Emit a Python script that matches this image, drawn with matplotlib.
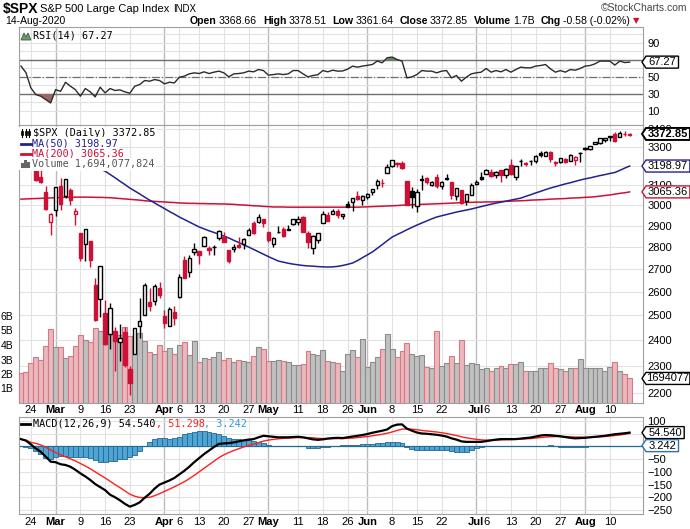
import numpy as np
import pandas as pd
import matplotlib
matplotlib.use('Agg')
from matplotlib import pyplot as plt
from matplotlib.patches import Polygon
from matplotlib.lines import Line2D
from matplotlib.ticker import NullLocator
from matplotlib.transforms import IdentityTransform

# ---- data (S&P 500 daily, 20-Feb-2020 .. 14-Aug-2020) ----
holidays = ['2020-04-10', '2020-05-25', '2020-07-03']
prev_close = 3386.15  # close of 19-Feb, used for the first candle colour

opens = [3380.39, 3360.50, 3257.61, 3238.94, 3139.90, 3062.54, 2916.90,
         2974.28, 3096.46, 3045.75, 3075.70, 2954.20,
         2863.89, 2813.48, 2825.60, 2630.86, 2569.99,
         2508.59, 2425.66, 2436.50, 2393.48, 2431.94,
         2290.71, 2344.44, 2457.77, 2501.29, 2555.87,
         2558.98, 2614.69, 2498.08, 2458.54, 2514.92,
         2578.28, 2738.65, 2685.00, 2776.99,
         2782.46, 2805.10, 2795.64, 2799.34, 2842.43,
         2845.62, 2784.81, 2787.89, 2810.42, 2812.64,
         2854.65, 2909.96, 2918.46, 2930.91, 2869.09,
         2815.01, 2868.88, 2883.14, 2878.26, 2908.83,
         2915.46, 2939.50, 2865.86, 2794.54, 2829.95,
         2913.86, 2948.59, 2953.63, 2969.95, 2948.05,
         3004.08, 3015.65, 3046.61, 3025.17,
         3038.78, 3064.78, 3098.90, 3111.56, 3163.84,
         3199.92, 3213.32, 3213.42, 3123.53, 3071.04,
         2993.76, 3131.00, 3136.13, 3101.64, 3140.29,
         3094.42, 3138.70, 3114.40, 3046.60, 3073.20,
         3018.59, 3050.20, 3105.92, 3143.64,
         3155.29, 3166.44, 3153.07, 3176.17, 3152.47,
         3205.08, 3141.11, 3225.98, 3208.36, 3224.21,
         3224.29, 3268.52, 3254.86, 3271.64, 3218.58,
         3219.84, 3234.27, 3227.22, 3231.76, 3270.45,
         3288.26, 3289.92, 3317.37, 3323.17, 3340.05,
         3356.04, 3370.34, 3355.46, 3372.95, 3368.66]
highs = [3393.52, 3360.76, 3259.81, 3246.99, 3182.51, 3097.07, 2959.72,
         3090.96, 3136.72, 3130.97, 3083.04, 2985.93,
         2863.89, 2882.59, 2825.60, 2660.95, 2711.33,
         2562.98, 2553.93, 2453.57, 2466.97, 2453.01,
         2300.73, 2449.71, 2571.42, 2637.01, 2615.91,
         2631.80, 2641.39, 2522.75, 2533.22, 2538.18,
         2676.85, 2756.89, 2760.75, 2818.57,
         2782.46, 2851.85, 2801.88, 2806.51, 2879.22,
         2868.98, 2785.54, 2815.10, 2844.90, 2842.71,
         2887.72, 2921.15, 2954.86, 2930.91, 2869.09,
         2844.24, 2898.23, 2891.11, 2901.92, 2932.16,
         2944.25, 2945.82, 2874.14, 2852.80, 2865.01,
         2968.09, 2964.21, 2980.29, 2978.50, 2956.76,
         3021.72, 3036.25, 3068.67, 3049.17,
         3062.18, 3081.07, 3130.94, 3128.91, 3211.72,
         3233.13, 3222.71, 3223.27, 3123.53, 3088.42,
         3079.76, 3153.45, 3141.16, 3120.00, 3155.53,
         3120.92, 3154.90, 3115.01, 3086.25, 3073.73,
         3053.89, 3111.51, 3128.44, 3165.81,
         3182.59, 3184.15, 3171.80, 3179.78, 3186.82,
         3235.32, 3200.95, 3238.28, 3220.39, 3233.52,
         3258.61, 3277.29, 3279.32, 3279.99, 3227.26,
         3241.43, 3243.72, 3264.74, 3250.92, 3272.17,
         3302.73, 3306.84, 3330.77, 3351.03, 3352.54,
         3363.29, 3381.01, 3387.89, 3387.24, 3378.51]
lows = [3342.44, 3328.45, 3214.65, 3118.77, 3108.99, 2977.39, 2855.84,
        2945.19, 2976.63, 3034.38, 2999.83, 2901.54,
        2734.43, 2734.00, 2707.22, 2478.86, 2492.37,
        2380.94, 2367.04, 2280.52, 2319.78, 2295.56,
        2191.86, 2344.44, 2407.53, 2500.72, 2520.02,
        2545.28, 2571.15, 2447.49, 2455.79, 2459.96,
        2574.57, 2657.67, 2663.30, 2762.36,
        2721.17, 2805.10, 2761.54, 2764.32, 2830.88,
        2820.43, 2727.10, 2775.95, 2794.26, 2791.76,
        2852.89, 2860.71, 2912.16, 2892.47, 2821.61,
        2797.85, 2863.55, 2847.65, 2876.48, 2902.88,
        2903.44, 2869.59, 2793.15, 2766.64, 2816.78,
        2913.86, 2922.35, 2953.63, 2938.57, 2933.59,
        2988.17, 2969.75, 3023.40, 2998.61,
        3031.54, 3051.64, 3080.82, 3090.41, 3163.84,
        3196.00, 3193.11, 3181.49, 2999.49, 2984.47,
        2965.66, 3076.06, 3108.03, 3093.51, 3083.11,
        3079.39, 3127.12, 3032.13, 3024.01, 3004.63,
        2999.74, 3047.83, 3101.17, 3124.52,
        3155.29, 3142.93, 3136.53, 3115.70, 3136.22,
        3149.43, 3127.66, 3200.76, 3198.59, 3205.65,
        3215.16, 3247.77, 3253.10, 3222.66, 3200.05,
        3214.25, 3216.17, 3227.22, 3204.13, 3220.26,
        3284.53, 3286.37, 3317.37, 3318.14, 3328.72,
        3335.44, 3326.44, 3355.46, 3363.35, 3361.64]
closes = [3373.23, 3337.75, 3225.89, 3128.21, 3116.39, 2978.76, 2954.22,
          3090.23, 3003.37, 3130.12, 3023.94, 2972.37,
          2746.56, 2882.23, 2741.38, 2480.64, 2711.02,
          2386.13, 2529.19, 2398.10, 2409.39, 2304.92,
          2237.40, 2447.33, 2475.56, 2630.07, 2541.47,
          2626.65, 2584.59, 2470.50, 2526.90, 2488.65,
          2663.68, 2659.41, 2749.98, 2789.82,
          2761.63, 2846.06, 2783.36, 2799.55, 2874.56,
          2823.16, 2736.56, 2799.31, 2797.80, 2836.74,
          2878.48, 2863.39, 2939.51, 2912.43, 2830.71,
          2842.74, 2868.44, 2848.42, 2881.19, 2929.80,
          2930.32, 2870.12, 2820.00, 2852.50, 2863.70,
          2953.91, 2922.94, 2971.61, 2948.51, 2955.45,
          2991.77, 3036.13, 3029.73, 3044.31,
          3055.73, 3080.82, 3122.87, 3112.35, 3193.93,
          3232.39, 3207.18, 3190.14, 3002.10, 3041.31,
          3066.59, 3124.74, 3113.49, 3115.34, 3097.74,
          3117.86, 3131.29, 3050.33, 3083.76, 3009.05,
          3053.24, 3100.29, 3115.86, 3130.01,
          3179.72, 3145.32, 3169.94, 3152.05, 3185.04,
          3155.22, 3197.52, 3226.56, 3215.57, 3224.73,
          3251.84, 3257.30, 3276.02, 3235.66, 3215.63,
          3239.41, 3218.44, 3258.44, 3246.22, 3271.12,
          3294.61, 3306.51, 3327.77, 3349.16, 3351.28,
          3360.47, 3333.69, 3380.35, 3373.43, 3372.85]

ma50 = [3265, 3264, 3263, 3261, 3258, 3255, 3251, 3247, 3242, 3236,
        3230, 3223, 3216, 3208, 3200, 3191, 3182, 3172, 3155, 3138,
        3120, 3103, 3085, 3070, 3055, 3039, 3024, 3010, 2996, 2982,
        2968, 2955, 2941, 2929, 2917, 2905, 2893, 2884, 2875, 2867,
        2858, 2850, 2841, 2830, 2820, 2809, 2799, 2788, 2777, 2766,
        2755, 2745, 2735, 2730, 2725, 2721, 2718, 2715, 2713, 2712,
        2710, 2709, 2708, 2709, 2711, 2715, 2720, 2726, 2737, 2750,
        2763, 2776, 2793, 2810, 2828, 2845, 2857, 2868, 2880, 2891,
        2902, 2912, 2922, 2932, 2941, 2947, 2953, 2959, 2965, 2970,
        2975, 2980, 2986, 2992, 2998, 3004, 3009, 3014, 3019, 3024,
        3029, 3034, 3043, 3051, 3060, 3068, 3077, 3085, 3092, 3099,
        3106, 3112, 3119, 3126, 3132, 3137, 3143, 3149, 3154, 3160,
        3165, 3176, 3188, 3198.97]
ma200 = [3029, 3030, 3031, 3032, 3033, 3034, 3035, 3036, 3037, 3038, 3038, 3039, 3039, 3039, 3039,
         3038, 3038, 3037, 3036, 3034, 3032, 3030, 3028, 3026, 3024, 3021, 3019, 3018, 3016, 3015,
         3013, 3012, 3010, 3009, 3008, 3008, 3007, 3007, 3006, 3006, 3005, 3005, 3004, 3003, 3001,
         3000, 2998, 2996, 2995, 2993, 2992, 2990, 2990, 2990, 2989, 2989, 2989, 2989, 2989, 2989,
         2989, 2989, 2989, 2989, 2989, 2989, 2989, 2989, 2989, 2990, 2991, 2992, 2993, 2994, 2995,
         2996, 2997, 2999, 3000, 3001, 3002, 3003, 3004, 3005, 3006, 3007, 3008, 3009, 3010, 3012,
         3013, 3013, 3014, 3014, 3015, 3015, 3016, 3017, 3018, 3019, 3020, 3021, 3022, 3024, 3025,
         3026, 3027, 3029, 3030, 3031, 3032, 3034, 3035, 3036, 3038, 3039, 3041, 3044, 3047, 3050,
         3054, 3058, 3061, 3065.36]

volume_b = [2.09, 2.15, 2.78, 3.2, 3.0, 3.93, 5.08, 3.84, 3.84, 3.08, 3.24, 3.93, 4.69, 4.34, 4.18,
            5.15, 4.97, 4.6, 4.9, 4.9, 4.7, 5.25, 4.6, 4.6, 4.85, 4.3, 3.55, 3.35, 4.0, 3.6,
            3.8, 3.4, 4.0, 4.2, 3.3, 4.3, 2.85, 3.1, 3.05, 3.2, 3.55, 2.95, 3.08, 2.8, 2.94,
            2.87, 2.83, 3.22, 3.84, 3.70, 2.87, 2.87, 2.94, 2.87, 2.83, 2.6, 2.6, 2.67, 3.56, 3.38,
            3.31, 3.66, 2.87, 2.83, 2.76, 2.2, 3.38, 3.66, 3.15, 4.39, 2.46, 2.83, 3.15, 3.70, 4.76,
            3.70, 3.15, 3.56, 4.14, 3.38, 3.24, 3.31, 2.46, 2.39, 4.97, 2.53, 2.76, 3.22, 2.74, 4.34,
            2.62, 2.78, 2.69, 2.34, 2.39, 2.23, 2.39, 2.57, 2.39, 2.67, 2.67, 2.8, 2.2, 2.2, 2.2,
            2.44, 2.39, 2.74, 2.44, 2.32, 2.23, 2.44, 2.44, 3.01, 2.39, 2.39, 2.44, 2.39, 2.23, 2.51,
            2.85, 2.23, 1.97, 1.694]

rsi = [62.6, 55, 37, 29.2, 27.3, 23.3, 19.4, 35, 33, 43.7, 39, 35, 27.3, 36.3, 32.4,
       26.5, 37.9, 31.2, 36.3, 34, 34.7, 32.4, 30.8, 39, 41, 45.7, 44.9, 46.8, 45.7, 41.8,
       43.7, 42.9, 49.6, 50.8, 53.5, 54.7, 53.9, 55.9, 53.9, 55.5, 56.7, 54.7, 50, 53.5, 53.9,
       54.7, 56.7, 55.9, 58.6, 57.4, 52, 52.7, 53.5, 52.7, 53.5, 57.4, 57.4, 53.5, 50, 51.6,
       52.5, 57.4, 55.9, 57.8, 56.7, 56.9, 59, 62.6, 61.4, 62.6, 63.5, 64.5, 68.5, 66.5, 72.4,
       73.2, 70.4, 68.5, 48.8, 50, 52.7, 57.4, 56.7, 56.7, 54.7, 56.7, 57.4, 48.8, 51.6, 44.9,
       49.6, 53.5, 54.7, 55.5, 59.8, 55.5, 57.4, 55.9, 58.6, 55.5, 58.6, 61.4, 60.6, 60.6, 62.6,
       63.3, 64.5, 59.4, 55.5, 57.4, 55.5, 58.6, 57.8, 59.8, 62.6, 63.3, 65.3, 68.5, 68.5, 68.5,
       63.8, 68.5, 66.8, 67.27]

macd = [29, 23, 8, -8, -21, -40, -60, -62, -70, -73, -80, -92, -106, -118, -132,
        -148, -160, -172, -190, -200, -212, -226, -237, -230, -220, -202, -186, -166, -150, -142,
        -134, -124, -110, -96, -80, -62, -46, -30, -16, -2, 10, 12, 13, 16, 20,
        24, 27, 29, 36, 42, 40, 38, 36, 36, 36, 37, 38, 36, 32, 28,
        26, 28, 31, 33, 34, 33, 36, 39, 42, 45, 49, 54, 58, 62, 67,
        80, 86, 87, 70, 62, 55, 51, 50, 48, 46, 43, 39, 32, 27, 20,
        18, 18, 18, 18, 21, 24, 27, 29, 29, 29, 29, 31, 33, 35, 39,
        43, 45, 44, 42, 40, 37, 34, 32, 33, 34, 36, 38, 40, 42, 45,
        48, 50, 52, 54.54]
signal = [28, 25, 16, 12, 6, -3, -14, -24, -33, -41, -49, -57, -67, -77, -88,
          -100, -112, -124, -137, -150, -162, -175, -188, -196, -201, -202, -200, -194, -186, -177,
          -168, -159, -149, -139, -127, -114, -100, -86, -72, -58, -44, -33, -24, -16, -9,
          -2, 4, 9, 15, 21, 25, 28, 30, 32, 33, 34, 35, 35, 35, 34,
          32, 31, 31, 31, 31, 31, 32, 33, 35, 37, 39, 42, 45, 48, 52,
          57, 63, 68, 69, 68, 66, 63, 61, 59, 57, 54, 51, 47, 43, 38,
          34, 31, 28, 26, 25, 25, 25, 26, 27, 27, 28, 29, 30, 31, 33,
          35, 37, 38, 39, 39, 39, 38, 37, 37, 36, 36, 37, 38, 39, 41,
          43, 45, 48, 51.298]
hist = [1, -2, -8, -18, -31, -45, -50, -41, -37, -37, -41, -41, -43, -43, -46,
        -54, -60, -63, -56, -56, -50, -50, -41, -33, -17, 0, 16, 29, 33, 33,
        31, 33, 39, 48, 52, 58, 59, 59, 58, 52, 51, 42, 33, 31, 28,
        25, 25, 22, 18, 12, 7, 3, 0, 1, 1, 1, 1, 0, -5, -6,
        -6, -4, -1, 2, 3, 5, 7, 7, 7, 8, 9, 10, 12, 14, 16,
        16, 16, 15, -4, -10, -13, -13, -14, -14, -14, -14, -15, -17, -20, -21,
        -20, -15, -8, -3, 0, 0, 1, 1, 1, 0, 0, 1, 1, 1, 1,
        2, 3, 5, 2, -2, -3, -3, -3, -3, -2, 0, 0, 0, 1, 2,
        2, 2, 3, 3.242]

tick_dates = ['2020-02-24', '2020-03-02', '2020-03-09', '2020-03-16', '2020-03-23',
              '2020-04-01', '2020-04-06', '2020-04-13', '2020-04-20', '2020-04-27',
              '2020-05-01', '2020-05-11', '2020-05-18', '2020-05-26', '2020-06-01',
              '2020-06-08', '2020-06-15', '2020-06-22', '2020-07-01', '2020-07-06',
              '2020-07-13', '2020-07-20', '2020-07-27', '2020-08-03', '2020-08-10']
tick_labels = ['24', 'Mar', '9', '16', '23', 'Apr', '6', '13', '20', '27', 'May', '11', '18',
               '26', 'Jun', '8', '15', '22', 'Jul', '6', '13', '20', '27', 'Aug', '10']

# ---- setup ----
dates = pd.bdate_range('2020-02-20', '2020-08-14').drop(pd.to_datetime(holidays))
x = np.arange(len(dates))
tick_idx = [dates.get_loc(pd.Timestamp(d)) for d in tick_dates]
is_month = [not t.isdigit() for t in tick_labels]

opens, highs, lows, closes = map(np.array, (opens, highs, lows, closes))

RED = '#cf1036'
NAVY = '#22228f'
GRID = '#e2e2e2'
MGRID = '#bcbcbc'
SPINE = '#a0a0a0'

W, H = 690, 529
plt.rcParams['font.family'] = ['Liberation Sans', 'DejaVu Sans']
fig = plt.figure(figsize=(W / 100, H / 100), dpi=100)
fig.patch.set_facecolor('white')
rend = fig.canvas.get_renderer()
MONO = 'DejaVu Sans Mono'


def box(x0, y0, x1, y1):
    return [x0 / W, 1 - y1 / H, (x1 - x0) / W, (y1 - y0) / H]


XL = (-0.4, 125.7)
ax_rsi = fig.add_axes(box(19, 27, 643, 125))
ax_grid = fig.add_axes(box(19, 125, 643, 403))
ax_vol = fig.add_axes(box(19, 125, 643, 403))
ax_px = fig.add_axes(box(19, 125, 643, 403))
ax_macd = fig.add_axes(box(19, 417, 643, 514))

for a in (ax_rsi, ax_grid, ax_vol, ax_px, ax_macd):
    a.set_xlim(*XL)
    for s in a.spines.values():
        s.set_color(SPINE)
        s.set_linewidth(0.8)
for a in (ax_vol, ax_px):
    a.set_facecolor('none')
    for s in a.spines.values():
        s.set_visible(False)


def vgrid(a):
    for i, m in zip(tick_idx, is_month):
        a.axvline(i, color=MGRID if m else GRID, lw=1.0 if m else 0.8, zorder=0)


# ---- RSI panel ----
ax_rsi.set_ylim(-6.5, 108.5)
vgrid(ax_rsi)
for lv in range(10, 101, 10):
    ax_rsi.axhline(lv, color=GRID, lw=0.8, zorder=0)
ax_rsi.axhline(70, color='#707070', lw=1.0, zorder=1)
ax_rsi.axhline(30, color='#707070', lw=1.0, zorder=1)
ax_rsi.axhline(50, color='#707070', lw=0.9, ls='-.', zorder=1)
rsi_a = np.array(rsi)
ax_rsi.fill_between(x, rsi_a, 30, where=rsi_a < 30, interpolate=True, color='#a06464', lw=0, zorder=2)
ax_rsi.fill_between(x, rsi_a, 70, where=rsi_a > 70, interpolate=True, color='#5e8a5e', lw=0, zorder=2)
ax_rsi.plot(x, rsi_a, color='#2b2b2b', lw=1.0, zorder=3)
ax_rsi.set_xticks([])
ax_rsi.yaxis.tick_right()
ax_rsi.set_yticks([10, 30, 50, 90])   # 70 sits under the value tag
ax_rsi.tick_params(axis='y', length=0, pad=3, labelsize=8)

# ---- price panel ----
PLO, PHI = 2164, 3423
price_ticks = list(range(2200, 3401, 100))
ax_grid.set_yscale('log')
ax_grid.set_ylim(PLO, PHI)
vgrid(ax_grid)
for p in price_ticks:
    ax_grid.axhline(p, color=GRID, lw=0.8, zorder=0)
ax_grid.set_xticks([])
ax_grid.set_yticks([])
ax_grid.yaxis.set_minor_locator(NullLocator())

# volume
vol = np.array(volume_b)
prev = np.r_[prev_close, closes[:-1]]
down = closes < prev
ax_vol.bar(x, vol, width=1.0, color=np.where(down, '#ebb8bd', '#c0c0c0'),
           edgecolor=np.where(down, '#d57985', '#8c8c8c'), lw=0.8, zorder=1)
ax_vol.set_ylim(0, 278 / 14.5)
ax_vol.set_xticks([])
ax_vol.set_yticks([1, 2, 3, 4, 5, 6])
ax_vol.set_yticklabels(['1B', '2B', '3B', '4B', '5B', '6B'])
ax_vol.tick_params(axis='y', length=0, pad=4, labelsize=7.5)

# candles
ax_px.set_yscale('log')
ax_px.set_ylim(PLO, PHI)
ax_px.plot(x, ma200, color=RED, lw=1.1, zorder=2)
ax_px.plot(x, ma50, color=NAVY, lw=1.1, zorder=2)
ccol = np.where(down, RED, 'black')
ax_px.vlines(x, lows, highs, colors=ccol, lw=1.0, zorder=3)
for i in range(len(x)):
    lo = min(opens[i], closes[i])
    h = max(abs(closes[i] - opens[i]), 0.5)
    fc = 'white' if closes[i] > opens[i] else ccol[i]
    ax_px.bar(x[i], h, bottom=lo, width=0.68, facecolor=fc, edgecolor=ccol[i], lw=1.0, zorder=4)
shown_prices = [p for p in price_ticks if p != 3200]   # 3200 is covered by the MA(50) tag
ax_px.yaxis.tick_right()
ax_px.set_yticks(shown_prices)
ax_px.set_yticklabels([str(p) for p in shown_prices])
ax_px.yaxis.set_minor_locator(NullLocator())
ax_px.tick_params(axis='y', which='both', length=0, pad=3, labelsize=8)
ax_px.set_xticks(tick_idx)
ax_px.set_xticklabels(tick_labels)
ax_px.tick_params(axis='x', length=0, pad=1.5, labelsize=8)

# ---- MACD panel ----
ax_macd.set_ylim(-266, 116)
vgrid(ax_macd)
macd_ticks = [100, 50, 0, -50, -100, -150, -200, -250]
for lv in macd_ticks:
    ax_macd.axhline(lv, color=GRID, lw=0.8, zorder=0)
ax_macd.axhline(0, color='#226e96', lw=0.9, zorder=1)
ax_macd.bar(x, hist, width=1.0, color='#4fa4d5', edgecolor='#22698f', lw=0.6, zorder=2)
ax_macd.plot(x, signal, color='#ff1f1f', lw=1.0, zorder=3)
ax_macd.plot(x, macd, color='black', lw=1.6, zorder=4)
ax_macd.yaxis.tick_right()
ax_macd.set_yticks([100, -50, -100, -150, -200, -250])   # 50 and 0 sit under the tags
ax_macd.tick_params(axis='y', length=0, pad=3, labelsize=8)
ax_macd.set_xticks(tick_idx)
ax_macd.set_xticklabels(tick_labels)
ax_macd.tick_params(axis='x', length=0, pad=2.5, labelsize=8)

for a in (ax_px, ax_macd):
    for lab, m in zip(a.get_xticklabels(), is_month):
        if m:
            lab.set_fontweight('bold')


# ---- helpers in pixel space (origin top-left) ----
def pxpoly(pts, **kw):
    fig.add_artist(Polygon([(a, H - b) for a, b in pts], closed=True,
                           transform=IdentityTransform(), **kw))


def pxline(xs, ys, **kw):
    fig.add_artist(Line2D(xs, [H - y for y in ys], transform=IdentityTransform(), **kw))


def chain(x0, y, parts, size, family, anchor='left', zorder=5):
    items, cur, gap = [], 0.0, 0
    for s, kw, gap in parts:
        props = {'fontsize': size, 'family': family}
        props.update(kw)
        t = fig.text(0, 1 - y / H, s, va='center', ha='left', zorder=zorder, **props)
        items.append((t, cur))
        cur += t.get_window_extent(rend).width + gap
    total = cur - gap
    start = x0 if anchor == 'left' else x0 - total
    for t, off in items:
        t.set_x((start + off) / W)


def tag(ax, yval, text, ec, lw=1.0, bold=False):
    yd = H - ax.transData.transform((0, yval))[1]
    w = len(text) * 5.7 + 4
    x0 = 642
    pxpoly([(x0, yd), (x0 + 4, yd - 6), (x0 + 4 + w, yd - 6), (x0 + 4 + w, yd + 6), (x0 + 4, yd + 6)],
           fc='white', ec=ec, lw=lw, zorder=8)
    fig.text((x0 + 4 + w / 2) / W, 1 - yd / H, text, ha='center', va='center', fontsize=8,
             fontweight='bold' if bold else 'normal', zorder=9)


# ---- header ----
fig.text(3 / W, 1 - 9 / H, '$SPX', fontsize=10, fontweight='bold', va='center')
chain(40, 9, [('S&P 500 Large Cap Index', {}, 4), ('INDX', {'fontsize': 7}, 0)], 8, 'Liberation Sans')
fig.text(687 / W, 1 - 8 / H, '\u00a9StockCharts.com', fontsize=7.5, color='#444444', ha='right', va='center')
fig.text(5 / W, 1 - 21 / H, '14-Aug-2020', fontsize=7.5, va='center')
B = {'fontweight': 'bold'}
chain(630, 21, [('Open', B, 2), ('3368.66', {}, 6), ('High', B, 2), ('3378.51', {}, 6),
                ('Low', B, 2), ('3361.64', {}, 6), ('Close', B, 2), ('3372.85', {}, 6),
                ('Volume', B, 2), ('1.7B', {}, 6), ('Chg', B, 2), ('-0.58 (-0.02%)', {}, 0)],
      7.6, 'Liberation Sans', anchor='right')
fig.text(633 / W, 1 - 21 / H, '\u25bc', fontsize=6, color=RED, va='center', family='DejaVu Sans')

# ---- panel legends ----
LB = dict(fc='white', ec='none', pad=0.8)
pxpoly([(21, 40), (24, 33), (26, 37), (28, 33), (31, 40)], fc='#6f9a6f', ec='#3d5d3d', lw=0.6, zorder=6)
fig.text(33 / W, 1 - 36 / H, 'RSI(14) 67.27', fontsize=7.3, family=MONO, va='center', zorder=6)

fig.text(33 / W, 1 - 133 / H, '$SPX (Daily) 3372.85', fontsize=7.3, family=MONO, va='center',
         zorder=6, bbox=LB)
fig.text(32 / W, 1 - 143.5 / H, 'MA(50) 3198.97', fontsize=7.3, family=MONO, va='center',
         color=NAVY, zorder=6, bbox=LB)
fig.text(32 / W, 1 - 154 / H, 'MA(200) 3065.36', fontsize=7.3, family=MONO, va='center',
         color=RED, zorder=6, bbox=LB)
fig.text(32 / W, 1 - 164.5 / H, 'Volume 1,694,077,824', fontsize=7.3, family=MONO, va='center',
         color='#555555', zorder=6, bbox=LB)
fig.add_artist(plt.Rectangle((19 / W, 1 - 170 / H), 13 / W, 43 / H, transform=fig.transFigure,
                             fc='white', ec='none', zorder=5))
for cx in (22, 25.5, 29):
    pxline([cx, cx], [129, 137], color='black', lw=0.8, zorder=7)
    pxpoly([(cx - 1, 131), (cx + 1, 131), (cx + 1, 135), (cx - 1, 135)], fc='black', ec='black', lw=0.5, zorder=7)
pxline([21, 31], [143.5, 143.5], color=NAVY, lw=2, zorder=7)
pxline([21, 31], [154, 154], color=RED, lw=2, zorder=7)
for cx, top in ((22.5, 163), (25.5, 160), (28.5, 162)):
    pxpoly([(cx - 1.2, 168), (cx + 1.2, 168), (cx + 1.2, top), (cx - 1.2, top)], fc='#666666', ec='none', zorder=7)

pxline([21, 30], [424, 424], color='black', lw=2, zorder=7)
chain(33, 424, [('MACD(12,26,9) 54.540', {}, 0), (', 51.298', {'color': '#ff1f1f'}, 0),
                (', 3.242', {'color': '#2f9ad6'}, 0)], 7.3, MONO)

# ---- right-hand value tags ----
tag(ax_rsi, 67.27, '67.27', 'black')
tag(ax_px, 3372.85, '3372.85', 'black', lw=1.4, bold=True)
tag(ax_px, 3198.97, '3198.97', NAVY)
tag(ax_px, 3065.36, '3065.36', RED)
tag(ax_vol, 1.694, '1694077', 'black')
tag(ax_macd, 54.54, '54.540', 'black')
tag(ax_macd, 3.242, '3.242', '#2f6fb0')

fig.savefig('out.png', dpi=100, facecolor='white')
